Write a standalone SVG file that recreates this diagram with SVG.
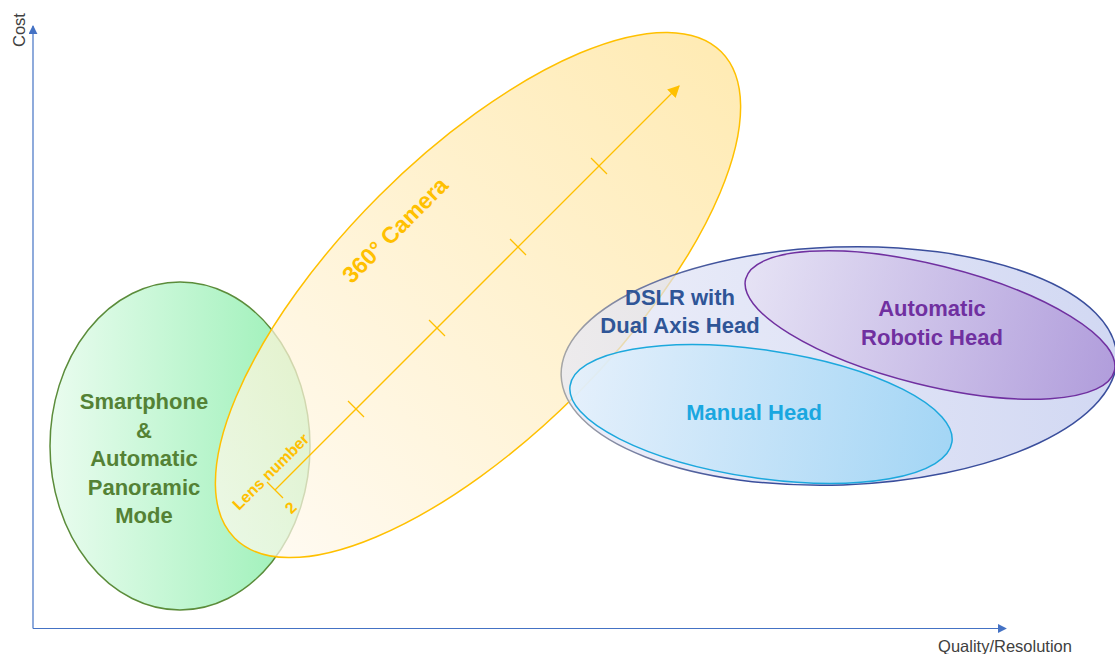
<svg xmlns="http://www.w3.org/2000/svg" width="1115" height="654" viewBox="0 0 1115 654">
<style>
.lbl{font-family:"Liberation Sans",Arial,sans-serif;font-weight:bold;font-size:22px;text-anchor:middle}
.ax{font-family:"Liberation Sans",Arial,sans-serif;font-size:16.5px;fill:#404040}
.axis{stroke:#4472C4;stroke-width:1.2;fill:none}
.org{stroke:#FFC000;stroke-width:1.3;fill:none}
</style>
<defs>
<marker id="ah" viewBox="0 0 10 10" refX="9" refY="5" markerWidth="9" markerHeight="9" markerUnits="userSpaceOnUse" orient="auto">
<path d="M0,0 L10,5 L0,10 z" fill="#4472C4"/>
</marker>
<marker id="ah2" viewBox="0 0 10 10" refX="9" refY="5" markerWidth="13" markerHeight="12" markerUnits="userSpaceOnUse" orient="auto">
<path d="M0,0 L10,5 L0,10 z" fill="#FFC000"/>
</marker>
<linearGradient id="gGreen" x1="0" y1="0" x2="1" y2="0">
<stop offset="0" stop-color="#EAFCEF"/>
<stop offset="1" stop-color="#98F0B5"/>
</linearGradient>
<linearGradient id="gOrange" x1="0" y1="0" x2="1" y2="0">
<stop offset="0" stop-color="#FFF9EE"/>
<stop offset="1" stop-color="#FFE397"/>
</linearGradient>
<linearGradient id="gDslr" x1="0" y1="0" x2="1" y2="0">
<stop offset="0" stop-color="#E6E8F7"/>
<stop offset="1" stop-color="#C0C9EE"/>
</linearGradient>
<linearGradient id="sDslr" x1="0" y1="0" x2="1" y2="0">
<stop offset="0" stop-color="#A6A6A6"/>
<stop offset="0.3" stop-color="#3A4E9C"/>
<stop offset="1" stop-color="#3A4E9C"/>
</linearGradient>
<linearGradient id="gPurple" x1="0" y1="0" x2="1" y2="0">
<stop offset="0" stop-color="#E6E1F4"/>
<stop offset="1" stop-color="#A98FD6"/>
</linearGradient>
<linearGradient id="gCyan" x1="0" y1="0" x2="1" y2="0">
<stop offset="0" stop-color="#E3F0FC"/>
<stop offset="1" stop-color="#9AD4F5"/>
</linearGradient>
</defs>

<g id="axes">
<line class="axis" x1="33" y1="628.5" x2="33" y2="26" marker-end="url(#ah)"/>
<line class="axis" x1="33" y1="628.5" x2="1006" y2="628.5" marker-end="url(#ah)"/>
<text class="ax" transform="translate(25,30) rotate(-90)" text-anchor="middle">Cost</text>
<text class="ax" x="1005" y="652" text-anchor="middle">Quality/Resolution</text>
</g>

<g id="smartphone">
<ellipse cx="180" cy="446" rx="130" ry="164" fill="url(#gGreen)" stroke="#5B8C3A" stroke-width="1.5"/>
<text class="lbl" fill="#548235"><tspan x="144" y="409">Smartphone</tspan><tspan x="144" y="437.5">&amp;</tspan><tspan x="144" y="466">Automatic</tspan><tspan x="144" y="494.5">Panoramic</tspan><tspan x="144" y="523">Mode</tspan></text>
</g>

<g id="camera360">
<ellipse cx="0" cy="0" rx="344" ry="140" transform="translate(478,295) rotate(-45)" fill="url(#gOrange)" fill-opacity="0.72" stroke="#FFC000" stroke-width="1.5"/>
<text class="lbl" fill="#FFC000" style="font-size:23px" transform="translate(395,230) rotate(-45)" y="8">360° Camera</text>
</g>

<g id="connectors">
<line class="org" x1="275" y1="490" x2="679" y2="86" marker-end="url(#ah2)"/>
<line class="org" x1="267" y1="482" x2="283" y2="498"/>
<line class="org" x1="348" y1="401" x2="364" y2="417"/>
<line class="org" x1="429" y1="320" x2="445" y2="336"/>
<line class="org" x1="510" y1="239" x2="526" y2="255"/>
<line class="org" x1="591" y1="158" x2="607" y2="174"/>
<text class="lbl" fill="#FFC000" style="font-size:16px" transform="translate(271,472) rotate(-45)" y="5">Lens number</text>
<text class="lbl" fill="#FFC000" style="font-size:16px" transform="translate(291,508) rotate(-45)" y="5">2</text>
</g>

<g id="dslr">
<ellipse cx="0" cy="0" rx="278" ry="119" transform="translate(839,366) rotate(-2)" fill="url(#gDslr)" fill-opacity="0.72" stroke="url(#sDslr)" stroke-width="1.5"/>
<text class="lbl" fill="#2F5597"><tspan x="680" y="305">DSLR with</tspan><tspan x="680" y="333">Dual Axis Head</tspan></text>
</g>

<g id="manual">
<ellipse cx="0" cy="0" rx="193" ry="64" transform="translate(761,414) rotate(8.4)" fill="url(#gCyan)" fill-opacity="0.85" stroke="#1CA8DD" stroke-width="1.5"/>
<text class="lbl" fill="#1AA7E0" x="754" y="420">Manual Head</text>
</g>

<g id="robotic">
<ellipse cx="0" cy="0" rx="190" ry="60" transform="translate(930,325) rotate(14)" fill="url(#gPurple)" fill-opacity="0.8" stroke="#7030A0" stroke-width="1.5"/>
<text class="lbl" fill="#7030A0"><tspan x="932" y="316">Automatic</tspan><tspan x="932" y="345">Robotic Head</tspan></text>
</g>
</svg>
